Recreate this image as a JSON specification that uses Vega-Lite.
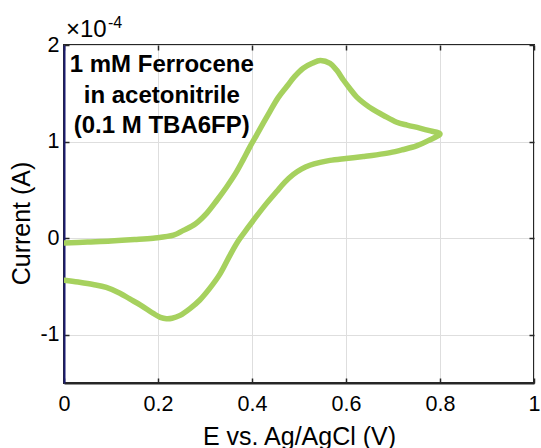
{
  "$schema": "https://vega.github.io/schema/vega-lite/v6.json",
  "width": 470,
  "height": 338,
  "autosize": {"type": "none"},
  "padding": {"left": 64, "top": 45, "right": 7, "bottom": 65},
  "background": "white",
  "config": {
    "view": {"stroke": "#262626", "strokeWidth": 2},
    "font": "Liberation Sans",
    "axis": {
      "labelFont": "Liberation Sans",
      "titleFont": "Liberation Sans",
      "labelColor": "#000000",
      "titleColor": "#000000",
      "tickColor": "#262626",
      "domainColor": "#262626",
      "gridColor": "#dedede",
      "gridWidth": 1
    }
  },
  "datasets": {
    "cv": [
      {"i": 1, "E": 0.0, "I": -0.05},
      {"i": 2, "E": 0.05, "I": -0.04},
      {"i": 3, "E": 0.1, "I": -0.03},
      {"i": 4, "E": 0.15, "I": -0.015},
      {"i": 5, "E": 0.19, "I": 0.0},
      {"i": 6, "E": 0.233, "I": 0.03},
      {"i": 7, "E": 0.254, "I": 0.08},
      {"i": 8, "E": 0.28, "I": 0.15},
      {"i": 9, "E": 0.304, "I": 0.26},
      {"i": 10, "E": 0.325, "I": 0.39},
      {"i": 11, "E": 0.346, "I": 0.53},
      {"i": 12, "E": 0.365, "I": 0.67},
      {"i": 13, "E": 0.381, "I": 0.81},
      {"i": 14, "E": 0.395, "I": 0.94},
      {"i": 15, "E": 0.41, "I": 1.07},
      {"i": 16, "E": 0.438, "I": 1.31},
      {"i": 17, "E": 0.455, "I": 1.45},
      {"i": 18, "E": 0.474, "I": 1.57},
      {"i": 19, "E": 0.49, "I": 1.67},
      {"i": 20, "E": 0.509, "I": 1.76},
      {"i": 21, "E": 0.528, "I": 1.81},
      {"i": 22, "E": 0.545, "I": 1.84},
      {"i": 23, "E": 0.566, "I": 1.81},
      {"i": 24, "E": 0.58, "I": 1.74},
      {"i": 25, "E": 0.594, "I": 1.64},
      {"i": 26, "E": 0.608, "I": 1.55},
      {"i": 27, "E": 0.623, "I": 1.46},
      {"i": 28, "E": 0.64, "I": 1.39},
      {"i": 29, "E": 0.658, "I": 1.33},
      {"i": 30, "E": 0.68, "I": 1.27},
      {"i": 31, "E": 0.708, "I": 1.2},
      {"i": 32, "E": 0.73, "I": 1.17},
      {"i": 33, "E": 0.757, "I": 1.14},
      {"i": 34, "E": 0.78, "I": 1.11},
      {"i": 35, "E": 0.8, "I": 1.08},
      {"i": 36, "E": 0.775, "I": 1.01},
      {"i": 37, "E": 0.75, "I": 0.955},
      {"i": 38, "E": 0.72, "I": 0.915},
      {"i": 39, "E": 0.694, "I": 0.885},
      {"i": 40, "E": 0.665, "I": 0.862},
      {"i": 41, "E": 0.637, "I": 0.845},
      {"i": 42, "E": 0.6, "I": 0.825},
      {"i": 43, "E": 0.566, "I": 0.805},
      {"i": 44, "E": 0.545, "I": 0.785},
      {"i": 45, "E": 0.523, "I": 0.755},
      {"i": 46, "E": 0.505, "I": 0.715},
      {"i": 47, "E": 0.488, "I": 0.66},
      {"i": 48, "E": 0.47, "I": 0.58},
      {"i": 49, "E": 0.452, "I": 0.48},
      {"i": 50, "E": 0.431, "I": 0.36},
      {"i": 51, "E": 0.41, "I": 0.23},
      {"i": 52, "E": 0.39, "I": 0.1},
      {"i": 53, "E": 0.372, "I": -0.02},
      {"i": 54, "E": 0.355, "I": -0.16},
      {"i": 55, "E": 0.332, "I": -0.37},
      {"i": 56, "E": 0.31, "I": -0.52},
      {"i": 57, "E": 0.289, "I": -0.64},
      {"i": 58, "E": 0.268, "I": -0.73},
      {"i": 59, "E": 0.247, "I": -0.8},
      {"i": 60, "E": 0.23, "I": -0.83},
      {"i": 61, "E": 0.218, "I": -0.835},
      {"i": 62, "E": 0.205, "I": -0.82},
      {"i": 63, "E": 0.19, "I": -0.78},
      {"i": 64, "E": 0.162, "I": -0.69},
      {"i": 65, "E": 0.14, "I": -0.63},
      {"i": 66, "E": 0.119, "I": -0.57},
      {"i": 67, "E": 0.09, "I": -0.51},
      {"i": 68, "E": 0.062, "I": -0.48},
      {"i": 69, "E": 0.03, "I": -0.455},
      {"i": 70, "E": 0.0, "I": -0.435}
    ],
    "note": [
      {"E": 0.208, "I": 1.72, "label": "1 mM Ferrocene\nin acetonitrile\n(0.1 M TBA6FP)"}
    ],
    "exp": [
      {"E": 0.0, "I": 2.0, "base": "×10", "power": "-4"}
    ]
  },
  "layer": [
    {
      "data": {"name": "cv"},
      "mark": {"type": "line", "color": "#a6d15e", "strokeWidth": 5.5, "strokeCap": "round", "strokeJoin": "round", "interpolate": "catmull-rom", "clip": true},
      "encoding": {
        "x": {
          "field": "E", "type": "quantitative",
          "scale": {"domain": [0, 1], "nice": false, "zero": false},
          "axis": {
            "orient": "bottom", "values": [0, 0.2, 0.4, 0.6, 0.8, 1],
            "labelExpr": "datum.value == 0 || datum.value == 1 ? format(datum.value, 'd') : format(datum.value, '.1f')",
            "labelFontSize": 21.5, "labelPadding": 15, "labelFlush": false,
            "tickSize": -5, "tickWidth": 1.5, "domainWidth": 2,
            "grid": true,
            "title": "E vs. Ag/AgCl (V)", "titleFontSize": 25, "titleFontWeight": "normal",
            "titleBaseline": "alphabetic", "titleY": 61, "titleX": 235, "titleAnchor": "middle"
          }
        },
        "y": {
          "field": "I", "type": "quantitative",
          "scale": {"domain": [-1.5, 2], "nice": false, "zero": false},
          "axis": {
            "orient": "left", "values": [-1, 0, 1, 2],
            "labelExpr": "datum.value + ''",
            "labelFontSize": 21.5, "labelPadding": 10, "labelFlush": false,
            "labelBaseline": "middle",
            "tickSize": -5, "tickWidth": 1.5, "domainWidth": 2, "domainColor": "#1c1c70",
            "grid": true,
            "title": "Current (A)", "titleFontSize": 25, "titleFontWeight": "normal",
            "titleAngle": 270, "titleBaseline": "alphabetic", "titleX": -35, "titleY": 178, "titleAnchor": "middle"
          }
        },
        "order": {"field": "i", "type": "quantitative"}
      }
    },
    {
      "data": {"name": "cv"},
      "mark": {"type": "point", "opacity": 0},
      "encoding": {
        "x": {
          "field": "E", "type": "quantitative",
          "axis": {"orient": "top", "values": [0, 0.2, 0.4, 0.6, 0.8, 1], "labels": false, "grid": false, "domain": false, "tickSize": -5, "tickWidth": 1.5, "title": null}
        },
        "y": {
          "field": "I", "type": "quantitative",
          "axis": {"orient": "right", "values": [-1, 0, 1, 2], "labels": false, "grid": false, "domain": false, "tickSize": -5, "tickWidth": 1.5, "title": null}
        }
      }
    },
    {
      "data": {"name": "note"},
      "mark": {"type": "text", "font": "Liberation Sans", "fontWeight": "bold", "fontSize": 24, "align": "center", "baseline": "alphabetic", "lineBreak": "\n", "lineHeight": 30.5, "color": "#000000"},
      "encoding": {
        "x": {"field": "E", "type": "quantitative", "axis": null},
        "y": {"field": "I", "type": "quantitative", "axis": null},
        "text": {"field": "label"}
      }
    },
    {
      "data": {"name": "exp"},
      "mark": {"type": "text", "font": "Liberation Sans", "fontSize": 24, "align": "left", "baseline": "alphabetic", "dx": 2, "dy": -8, "clip": false, "color": "#000000"},
      "encoding": {
        "x": {"field": "E", "type": "quantitative", "axis": null},
        "y": {"field": "I", "type": "quantitative", "axis": null},
        "text": {"field": "base"}
      }
    },
    {
      "data": {"name": "exp"},
      "mark": {"type": "text", "font": "Liberation Sans", "fontSize": 16, "align": "left", "baseline": "alphabetic", "dx": 44, "dy": -17, "clip": false, "color": "#000000"},
      "encoding": {
        "x": {"field": "E", "type": "quantitative", "axis": null},
        "y": {"field": "I", "type": "quantitative", "axis": null},
        "text": {"field": "power"}
      }
    }
  ],
  "resolve": {"axis": {"x": "independent", "y": "independent"}}
}
